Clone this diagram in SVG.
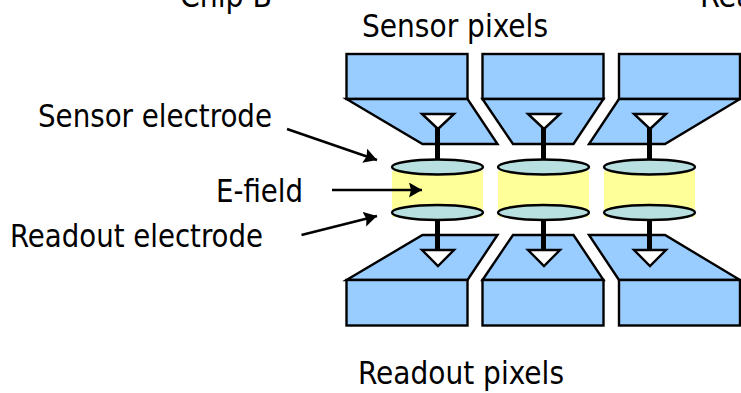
<svg xmlns="http://www.w3.org/2000/svg" width="741" height="393" viewBox="0 0 741 393">
<style>
text{font-family:"DejaVu Sans Condensed","DejaVu Sans",sans-serif;font-size:32px;fill:#000}
.b{fill:#99ccff;stroke:#000;stroke-width:2.400;stroke-linejoin:miter}
.t{fill:#fff;stroke:#000;stroke-width:2.400}
.e{fill:#b8e0e0;stroke:#000;stroke-width:2.400}
.y{fill:#ffff99;stroke:none}
.s{stroke:#000;stroke-width:5;fill:none}
.c{stroke:#000;stroke-width:2.500;fill:none;marker-end:url(#a)}
</style>
<defs>
<marker id="a" markerUnits="userSpaceOnUse" markerWidth="16" markerHeight="16" refX="13" refY="7.500" orient="auto"><path d="M0 0L13 7.500L0 15L2 7.500Z" fill="#000"/></marker>
</defs>
<g id="labels">
<text x="180" y="7" textLength="92" lengthAdjust="spacingAndGlyphs">Chip B</text>
<text x="700" y="7">Rea</text>
<text x="362" y="37" textLength="186" lengthAdjust="spacingAndGlyphs">Sensor pixels</text>
<text x="38" y="127" textLength="234" lengthAdjust="spacingAndGlyphs">Sensor electrode</text>
<text x="216" y="202" textLength="87" lengthAdjust="spacingAndGlyphs">E-field</text>
<text x="10" y="247" textLength="253" lengthAdjust="spacingAndGlyphs">Readout electrode</text>
<text x="358" y="384" textLength="206" lengthAdjust="spacingAndGlyphs">Readout pixels</text>
</g>
<g id="field-1"><rect class="y" x="392" y="171" width="91" height="46"/></g>
<g id="field-2"><rect class="y" x="498" y="171" width="91" height="46"/></g>
<g id="field-3"><rect class="y" x="604" y="171" width="91" height="46"/></g>
<g id="sensor-pixel-1">
<rect class="b" x="346.500" y="54" width="121" height="45"/>
<path class="b" d="M346.500 99L422.500 144H497.500L467.500 99Z"/>
<path class="s" d="M437.500 128V160"/>
<path class="t" d="M422 114H454L438 129Z"/>
</g>
<g id="sensor-pixel-2">
<rect class="b" x="482.500" y="54" width="121" height="45"/>
<path class="b" d="M482.500 99L513 144H573.500L603.500 99Z"/>
<path class="s" d="M543.500 128V160"/>
<path class="t" d="M528 114H560L544 129Z"/>
</g>
<g id="sensor-pixel-3">
<rect class="b" x="619" y="54" width="121" height="45"/>
<path class="b" d="M619 99L589 144H665L740 99Z"/>
<path class="s" d="M649.500 128V160"/>
<path class="t" d="M634 114H666L650 129Z"/>
</g>
<g id="readout-pixel-1">
<path class="b" d="M346.500 280L422.500 235H497.500L467.500 280Z"/>
<rect class="b" x="346.500" y="280" width="121" height="45.500"/>
<path class="s" d="M437.500 220V251"/>
<path class="t" d="M422 250H454L438 266Z"/>
</g>
<g id="readout-pixel-2">
<path class="b" d="M482.500 280L513 235H573.500L603.500 280Z"/>
<rect class="b" x="482.500" y="280" width="121" height="45.500"/>
<path class="s" d="M543.500 220V251"/>
<path class="t" d="M528 250H560L544 266Z"/>
</g>
<g id="readout-pixel-3">
<path class="b" d="M619 280L589 235H665L740 280Z"/>
<rect class="b" x="619" y="280" width="121" height="45.500"/>
<path class="s" d="M649.500 220V251"/>
<path class="t" d="M634 250H666L650 266Z"/>
</g>
<g id="electrodes">
<ellipse class="e" cx="437.500" cy="167" rx="45.500" ry="7.500"/>
<ellipse class="e" cx="543.500" cy="167" rx="45.500" ry="7.500"/>
<ellipse class="e" cx="649.500" cy="167" rx="45.500" ry="7.500"/>
<ellipse class="e" cx="437.500" cy="212.500" rx="45.500" ry="7.500"/>
<ellipse class="e" cx="543.500" cy="212.500" rx="45.500" ry="7.500"/>
<ellipse class="e" cx="649.500" cy="212.500" rx="45.500" ry="7.500"/>
</g>
<g id="connectors">
<path class="c" d="M287 129L377 160"/>
<path class="c" d="M332 190H422"/>
<path class="c" d="M301.500 235L377 216"/>
</g>
</svg>
